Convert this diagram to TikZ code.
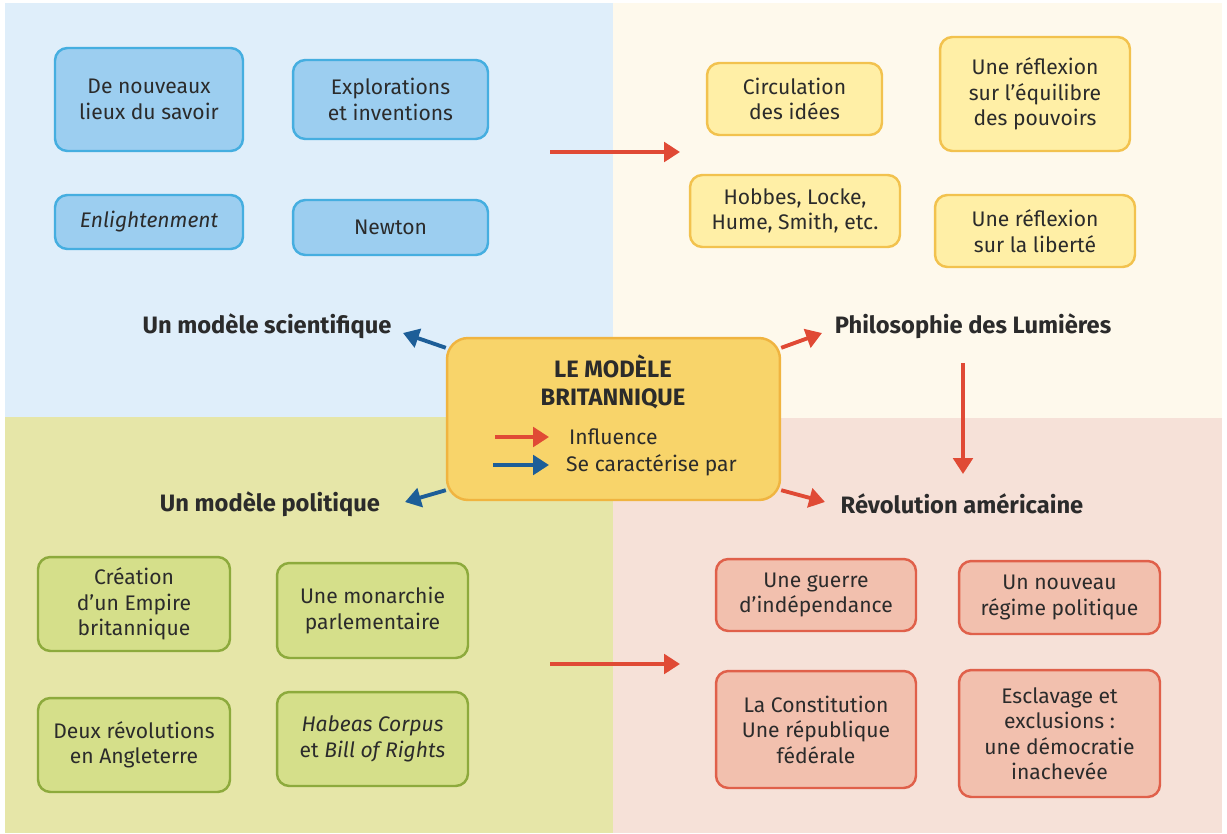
\documentclass[tikz,border=0pt]{standalone}
\usepackage{fontspec}
\setmainfont{Fira Sans}
\usepackage{xcolor}
\usepackage{tikz}
\usetikzlibrary{arrows.meta}

\definecolor{fondBleu}{HTML}{DFEEFA}
\definecolor{fondCreme}{HTML}{FEF9EC}
\definecolor{fondVert}{HTML}{E6E6A8}
\definecolor{fondRose}{HTML}{F6E1D8}
\definecolor{boiteBleu}{HTML}{9CCEF0}
\definecolor{bordBleu}{HTML}{45AEE0}
\definecolor{boiteJaune}{HTML}{FFEFA6}
\definecolor{bordJaune}{HTML}{F2C24E}
\definecolor{boiteVert}{HTML}{D5DF8A}
\definecolor{bordVert}{HTML}{8DAA3C}
\definecolor{boiteRose}{HTML}{F2C0AE}
\definecolor{bordRose}{HTML}{E0604A}
\definecolor{centreFond}{HTML}{F8D46A}
\definecolor{centreBord}{HTML}{F0B440}
\definecolor{flecheRouge}{HTML}{E04A35}
\definecolor{flecheBleu}{HTML}{1D5E98}
\definecolor{texte}{HTML}{2B2B2B}

\tikzset{
  boite/.style={rounded corners=7pt, line width=1.4pt, align=center,
    font=\fontsize{12}{14.5}\selectfont, text=texte, inner sep=0pt},
  bleue/.style={boite, fill=boiteBleu, draw=bordBleu},
  jaune/.style={boite, fill=boiteJaune, draw=bordJaune},
  verte/.style={boite, fill=boiteVert, draw=bordVert},
  rose/.style={boite, fill=boiteRose, draw=bordRose},
  titre/.style={font=\fontsize{13.5}{16}\selectfont\bfseries, text=texte},
  influence/.style={-{Triangle[length=9pt,width=11pt]}, line width=2.2pt, flecheRouge},
  caracterise/.style={-{Triangle[length=9pt,width=11pt]}, line width=2.2pt, flecheBleu}
}

\begin{document}
\begin{tikzpicture}[x=0.02cm, y=-0.02cm]
        % Fond
        \fill[white] (0,0) rectangle (1227,833);
        \fill[fondBleu] (5,3) rectangle (613,417);
        \fill[fondCreme] (613,3) rectangle (1222,418);
        \fill[fondVert] (5,417) rectangle (613,833);
        \fill[fondRose] (613,418) rectangle (1222,833);

        % Modele scientifique
        \node[bleue, minimum width=3.76cm, minimum height=2.06cm] (lieux) at (149,99.5) {De nouveaux\\lieux du savoir};
        \node[bleue, minimum width=3.9cm, minimum height=1.58cm] (explo) at (390.5,99.5) {Explorations\\et inventions};
        \node[bleue, minimum width=3.76cm, minimum height=1.08cm] (enlight) at (149,222) {\itshape Enlightenment};
        \node[bleue, minimum width=3.9cm, minimum height=1.1cm] (newton) at (390.5,227.5) {Newton};

        % Philosophie des Lumieres
        \node[jaune, minimum width=3.5cm, minimum height=1.44cm] (circ) at (794.5,99) {Circulation\\des idées};
        \node[jaune, minimum width=3.8cm, minimum height=2.28cm] (equil) at (1035,94) {Une réflexion\\sur l’équilibre\\des pouvoirs};
        \node[jaune, minimum width=4.2cm, minimum height=1.44cm] (auteurs) at (795,211) {Hobbes, Locke,\\Hume, Smith, etc.};
        \node[jaune, minimum width=4cm, minimum height=1.44cm] (liberte) at (1035,231) {Une réflexion\\sur la liberté};

        % Modele politique
        \node[verte, minimum width=3.84cm, minimum height=1.88cm] (empire) at (134,604) {Création\\d’un Empire\\britannique};
        \node[verte, minimum width=3.82cm, minimum height=1.9cm] (monarchie) at (372.5,610.5) {Une monarchie\\parlementaire};
        \node[verte, minimum width=3.84cm, minimum height=1.88cm] (deuxrev) at (134,745) {Deux révolutions\\en Angleterre};
        \node[verte, minimum width=3.82cm, minimum height=1.88cm] (habeas) at (372.5,739) {\textit{Habeas Corpus}\\et \textit{Bill of Rights}};

        % Revolution americaine
        \node[rose, minimum width=4cm, minimum height=1.44cm] (guerre) at (816,595) {Une guerre\\d’indépendance};
        \node[rose, minimum width=4.02cm, minimum height=1.46cm] (regime) at (1059.5,597.5) {Un nouveau\\régime politique};
        \node[rose, minimum width=4cm, minimum height=2.34cm] (constit) at (816,729.5) {La Constitution\\Une république\\fédérale};
        \node[rose, minimum width=4.02cm, minimum height=2.54cm] (esclav) at (1059.5,733.5) {Esclavage et\\exclusions :\\une démocratie\\inachevée};

        % Titres
        \node[titre] (scien) at (267,326) {Un modèle scientifique};
        \node[titre] (philo) at (973,326) {Philosophie des Lumières};
        \node[titre] (polit) at (270,504) {Un modèle politique};
        \node[titre] (revol) at (962,504) {Révolution américaine};

        % Centre
        \node[fill=centreFond, draw=centreBord, line width=1.4pt, rounded corners=12pt,
          minimum width=6.66cm, minimum height=3.24cm] (centre) at (613.5,419) {};
        \node[font=\fontsize{13.5}{16}\selectfont\bfseries, text=texte, align=center] (nom) at (613,382) {LE MODÈLE\\BRITANNIQUE};
        \coordinate (legA) at (495,437);
        \coordinate (legB) at (549,437);
        \coordinate (legC) at (493,465);
        \coordinate (legD) at (549,465);
        \draw[influence] (legA) -- (legB);
        \draw[caracterise] (legC) -- (legD);
        \node[anchor=west, font=\fontsize{12}{14}\selectfont, text=texte] (leg1) at (563,437) {Influence};
        \node[anchor=west, font=\fontsize{12}{14}\selectfont, text=texte] (leg2) at (560,465) {Se caractérise par};

        % Fleches
        \coordinate (fSc) at (403,333);
        \coordinate (fPh) at (822,333);
        \coordinate (fPo) at (405,502);
        \coordinate (fRe) at (825,502);
        \draw[caracterise] (centre.157) -- (fSc);
        \draw[influence] (centre.23) -- (fPh);
        \draw[caracterise] (centre.203) -- (fPo);
        \draw[influence] (centre.337) -- (fRe);
        \coordinate (hautA) at (550,152);
        \coordinate (hautB) at (680,152);
        \draw[influence] (hautA) -- (hautB);
        \coordinate (basA) at (550,664);
        \coordinate (basB) at (680,664);
        \draw[influence] (basA) -- (basB);
        \coordinate (vertA) at (963,363);
        \coordinate (vertB) at (963,474);
        \draw[influence] (vertA) -- (vertB);
\end{tikzpicture}
\end{document}
